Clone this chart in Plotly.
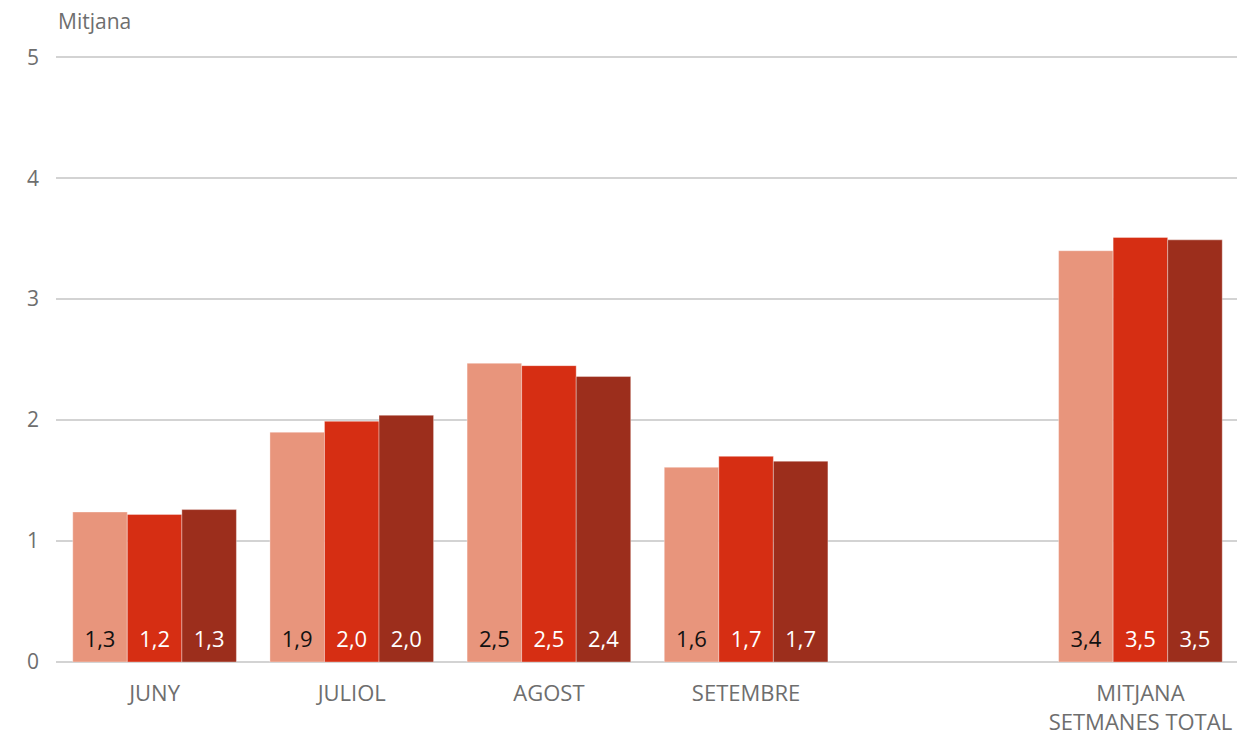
import plotly.graph_objects as go

categories = ["JUNY", "JULIOL", "AGOST", "SETEMBRE", " ", "MITJANA<br>SETMANES TOTAL"]
series_a = [1.24, 1.90, 2.47, 1.61, None, 3.40]
series_b = [1.22, 1.99, 2.45, 1.70, None, 3.51]
series_c = [1.26, 2.04, 2.36, 1.66, None, 3.49]
labels_a = ["1,3", "1,9", "2,5", "1,6", "", "3,4"]
labels_b = ["1,2", "2,0", "2,5", "1,7", "", "3,5"]
labels_c = ["1,3", "2,0", "2,4", "1,7", "", "3,5"]
y_ticks = [0, 1, 2, 3, 4, 5]

colors = ["#E8957C", "#D62E13", "#9C2E1C"]
text_colors = ["#111111", "#FFFFFF", "#FFFFFF"]
FONT = "Open Sans, Roboto, Arial"

fig = go.Figure()
for i, (vals, col) in enumerate(zip([series_a, series_b, series_c], colors)):
    fig.add_trace(go.Bar(
        x=categories, y=vals, offsetgroup=str(i),
        marker=dict(color=col, line=dict(color="rgba(255,255,255,0.35)", width=1)),
        hoverinfo="skip",
    ))
# value labels placed at each bar's base, grouped like the bars
for i, (vals, labs, tc) in enumerate(zip([series_a, series_b, series_c],
                                         [labels_a, labels_b, labels_c], text_colors)):
    fig.add_trace(go.Scatter(
        x=categories, y=[0 if v is not None else None for v in vals], text=labs,
        offsetgroup=str(i), mode="markers+text", textposition="top center",
        marker=dict(size=14, opacity=0),
        textfont=dict(color=tc, size=22, family=FONT),
        cliponaxis=False, hoverinfo="skip",
    ))

# page body has an 8px margin; offsets compensate for it
fig.update_layout(
    barmode="group", bargap=0.17, bargroupgap=0,
    scattermode="group",
    width=1245, height=735,
    margin=dict(l=48, r=14, t=48, b=81, autoexpand=False),
    plot_bgcolor="white", paper_bgcolor="white",
    showlegend=False,
    font=dict(family=FONT, color="#6E6E6E", size=21),
    annotations=[dict(text="Mitjana", xref="paper", yref="paper", x=0, y=1,
                      xshift=0, yshift=19, xanchor="left", yanchor="bottom",
                      showarrow=False, font=dict(size=21, color="#6E6E6E", family=FONT))],
)
fig.update_yaxes(range=[0, 5.01], tickvals=y_ticks, showgrid=True, gridcolor="#D3D3D3",
                 gridwidth=2, zeroline=True, zerolinecolor="#D3D3D3", zerolinewidth=2,
                 showline=False, ticks="", automargin=False,
                 ticklabelstandoff=16, tickfont=dict(size=21, color="#6E6E6E"))
fig.update_xaxes(showgrid=False, showline=False, ticks="", ticklabelstandoff=16,
                 automargin=False, tickfont=dict(size=22, color="#6E6E6E"))

fig.write_html("out.html")
